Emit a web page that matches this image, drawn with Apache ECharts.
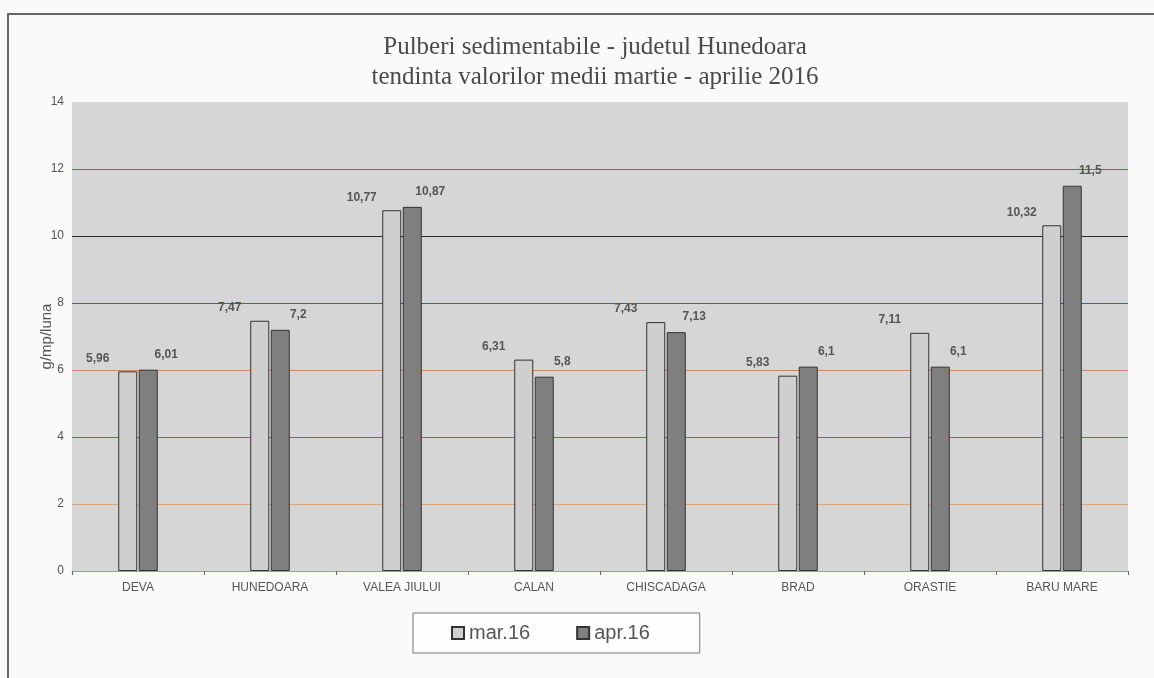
<!DOCTYPE html>
<html>
<head>
<meta charset="utf-8">
<script src="https://cdn.jsdelivr.net/npm/echarts@6/dist/echarts.min.js"></script>
<style>
html,body{margin:0;padding:0;background:#fafafa;}
#chart{width:1154px;height:678px;}
</style>
</head>
<body>
<div id="chart"></div>
<script>
const categories = ['DEVA','HUNEDOARA','VALEA JIULUI','CALAN','CHISCADAGA','BRAD','ORASTIE','BARU MARE'];
const seriesNames = ['mar.16','apr.16'];
const marValues = [5.96, 7.47, 10.77, 6.31, 7.43, 5.83, 7.11, 10.32];
const aprValues = [6.01, 7.2, 10.87, 5.8, 7.13, 6.1, 6.1, 11.5];
const yTicks = [0, 2, 4, 6, 8, 10, 12, 14];
const titleLines = ['Pulberi sedimentabile - judetul Hunedoara', 'tendinta valorilor medii martie - aprilie 2016'];
const yName = 'g/mp/luna';

const fmt = v => String(v).replace('.', ',');
const chart = echarts.init(document.getElementById('chart'));
chart.setOption({
  backgroundColor: '#fafafa',
  animation: false,
  title: {
    text: titleLines.join('\n'),
    left: 590, top: 27, textAlign: 'center',
    textStyle: { fontFamily: 'Liberation Serif', fontSize: 25, fontWeight: 'normal', color: '#4a4a4a', lineHeight: 30 }
  },
  graphic: [{
    type: 'rect', shape: { x: 8, y: 14, width: 1160, height: 700 },
    style: { fill: 'none', stroke: '#666', lineWidth: 2 }, silent: true, z: -1
  }],
  legend: {
    data: seriesNames,
    left: 413, top: 613,
    padding: [10, 50, 10, 38],
    icon: 'rect',
    itemWidth: 12, itemHeight: 12, itemGap: 46,
    backgroundColor: '#fdfdfd', borderColor: '#777', borderWidth: 1,
    textStyle: { fontFamily: 'Liberation Sans', fontSize: 20, color: '#555' }
  },
  grid: {
    left: 72, right: 1154 - 1128, top: 102, bottom: 678 - 571,
    show: true, backgroundColor: '#d6d6d6', borderWidth: 0
  },
  xAxis: {
    type: 'category', data: categories,
    axisLine: { lineStyle: { color: '#8aa0b8', width: 1 } },
    axisTick: { show: true, length: 4, lineStyle: { color: '#666' } },
    axisLabel: { fontFamily: 'Liberation Sans', fontSize: 12, color: '#555', margin: 11 }
  },
  yAxis: {
    type: 'value', min: yTicks[0], max: yTicks[yTicks.length - 1], interval: 2,
    name: yName, nameLocation: 'middle', nameRotate: 90, nameGap: 18, nameMoveOverlap: false,
    nameTextStyle: { fontFamily: 'Liberation Sans', fontSize: 15, color: '#555' },
    axisLine: { show: false },
    axisTick: { show: false },
    axisLabel: { fontFamily: 'Liberation Sans', fontSize: 12, color: '#555', margin: 8 },
    splitLine: { show: true, lineStyle: { width: 1, color: ['rgba(0,0,0,0)', '#d8a27c', '#4a6fc8', '#c9876a', '#3a5fb0', '#2a2a2a', '#4a6fc8', 'rgba(0,0,0,0)'] } }
  },
  series: [
    {
      name: seriesNames[0], type: 'bar', data: marValues,
      barWidth: 19, barGap: '8%',
      itemStyle: { color: '#cfcfcf', borderColor: '#333', borderWidth: 1 },
      label: { show: true, position: 'top', offset: [-30, -2], formatter: p => fmt(p.value),
        fontFamily: 'Liberation Sans', fontSize: 12, fontWeight: 'bold', color: '#555' }
    },
    {
      name: seriesNames[1], type: 'bar', data: aprValues,
      barWidth: 19,
      itemStyle: { color: '#7f7f7f', borderColor: '#333', borderWidth: 1 },
      label: { show: true, position: 'top', offset: [18, -4], formatter: p => fmt(p.value),
        fontFamily: 'Liberation Sans', fontSize: 12, fontWeight: 'bold', color: '#555' }
    }
  ]
});
</script>
</body>
</html>
